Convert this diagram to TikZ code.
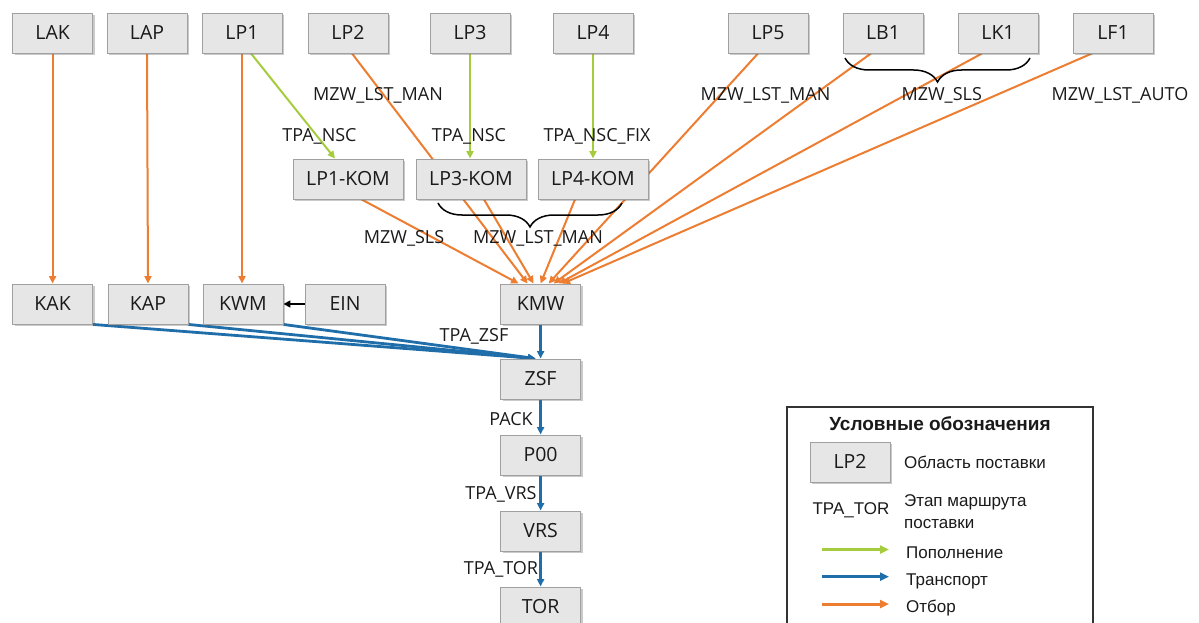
\documentclass[tikz,border=0pt]{standalone}
\usepackage{fontspec}
\setmainfont{Open Sans}
\newfontfamily\legendfont{Liberation Sans}
\usetikzlibrary{arrows.meta,shadows,decorations.pathreplacing,backgrounds,calc}

\definecolor{pick}{HTML}{ED7D31}
\definecolor{refill}{HTML}{A5CC3C}
\definecolor{transp}{HTML}{1F6EAA}
\definecolor{boxfill}{HTML}{E6E6E6}
\definecolor{boxline}{HTML}{A0A0A0}
\definecolor{ink}{HTML}{1A1A1A}

\tikzset{
  area/.style={draw=boxline, line width=0.9pt, fill=boxfill,
    minimum width=80pt, minimum height=40pt, inner sep=0pt,
    text height=13.9pt, text depth=0pt, text=ink,
    font=\fontsize{19.5}{22}\selectfont,
    drop shadow={shadow xshift=2pt, shadow yshift=-2pt, opacity=0.35, fill=black!60}},
  widearea/.style={area, minimum width=110pt},
  lbl/.style={anchor=base, inner sep=0pt, text=ink, font=\fontsize{18}{20}\selectfont},
  tip/.style={-{Triangle[length=7.5pt,width=7pt]}},
  pickarrow/.style={tip, draw=pick, fill=pick, line width=2pt},
  refillarrow/.style={tip, draw=refill, fill=refill, line width=2pt},
  transparrow/.style={tip, draw=transp, fill=transp, line width=2.8pt},
  curly/.style={draw=black, line width=1.5pt, decorate,
    decoration={brace, amplitude=24pt}},
  legtext/.style={anchor=base west, inner sep=0pt, text=ink,
    font=\legendfont\fontsize{17}{20}\selectfont},
  legarrow/.style={-{Triangle[length=9pt,width=8pt]}, line width=3pt},
}

\begin{document}
\begin{tikzpicture}[x=1pt, y=-1pt]
\useasboundingbox (0,0) rectangle (1199,623);
\clip (0,0) rectangle (1199,623);

% storage areas, top row
\node[area] (lak) at (52.6,33) {LAK};
\node[area] (lap) at (147,33) {LAP};
\node[area] (lp1) at (242,33) {LP1};
\node[area] (lp2) at (348,33) {LP2};
\node[area] (lp3) at (470,33) {LP3};
\node[area] (lp4) at (593,33) {LP4};
\node[area] (lp5) at (768,33) {LP5};
\node[area] (lb1) at (883,33) {LB1};
\node[area] (lk1) at (998,33) {LK1};
\node[area] (lf1) at (1113,33) {LF1};

% picking areas
\node[widearea] (lp1kom) at (348,179) {LP1-KOM};
\node[widearea] (lp3kom) at (471,179) {LP3-KOM};
\node[widearea] (lp4kom) at (593,179) {LP4-KOM};

% staging row
\node[area] (kak) at (52.6,304) {KAK};
\node[area] (kap) at (148,304) {KAP};
\node[area] (kwm) at (243,304) {KWM};
\node[area] (ein) at (345,304) {EIN};
\node[area] (kmw) at (540.6,304) {KMW};

% outbound chain
\node[area] (zsf) at (540.6,379) {ZSF};
\node[area] (p00) at (540.6,455) {P00};
\node[area] (vrs) at (540.6,531) {VRS};
\node[area] (tor) at (540.6,607) {TOR};

% connectors behind the boxes
\begin{scope}[on background layer]
  % picking
  \draw[pickarrow] (lak.south) -- (kak.north);
  \draw[pickarrow] (lap.south) -- (kap.north);
  \draw[pickarrow] (lp1.south) -- (lp1.south |- kwm.north);
  \draw[pickarrow] ([xshift=4pt]lp2.south) -- ([xshift=-13pt]kmw.north);
  \draw[pickarrow] ([xshift=13.6pt]lp1kom.south) -- ([xshift=-22pt]kmw.north);
  \draw[pickarrow] ([xshift=13pt]lp3kom.south) -- ([xshift=-7pt]kmw.north);
  \draw[pickarrow] ([xshift=-18pt]lp4kom.south) -- ([xshift=0pt]kmw.north);
  \draw[pickarrow] ([xshift=-10pt]lp5.south) -- ([xshift=8pt]kmw.north);
  \draw[pickarrow] ([xshift=-12pt]lb1.south) -- ([xshift=13pt]kmw.north);
  \draw[pickarrow] ([xshift=-16pt]lk1.south) -- ([xshift=18pt]kmw.north);
  \draw[pickarrow] ([xshift=-21pt]lf1.south) -- ([xshift=22pt]kmw.north);
  % replenishment
  \draw[refillarrow] ([xshift=9pt]lp1.south) -- ([xshift=-13pt]lp1kom.north);
  \draw[refillarrow] (lp3.south) -- (lp3.south |- lp3kom.north);
  \draw[refillarrow] (lp4.south) -- (lp4kom.north);
  % transport
  \draw[transparrow] (kak.south east) -- ([xshift=-5pt]zsf.north);
  \draw[transparrow] (kap.south east) -- ([xshift=-5pt]zsf.north);
  \draw[transparrow] (kwm.south east) -- ([xshift=-5pt]zsf.north);
  \draw[transparrow] (kmw.south) -- (zsf.north);
  \draw[transparrow] (zsf.south) -- (p00.north);
  \draw[transparrow] (p00.south) -- (vrs.north);
  \draw[transparrow] (vrs.south) -- (tor.north);
  % goods receipt
  \draw[-{Triangle[length=7pt,width=7pt]}, line width=1.6pt, draw=black] (ein.west) -- (kwm.east);
\end{scope}

% braces
\draw[curly] (1030,58) -- (845,58);
\draw[curly] (622,203) -- (438,203);

% route step labels
\node[lbl] (t1) at (378,101) {MZW\_LST\_MAN};
\node[lbl] (t2) at (319.5,142) {TPA\_NSC};
\node[lbl] (t3) at (469,142) {TPA\_NSC};
\node[lbl] (t4) at (597,142) {TPA\_NSC\_FIX};
\node[lbl] (t5) at (765.5,101) {MZW\_LST\_MAN};
\node[lbl] (t6) at (941.7,101) {MZW\_SLS};
\node[lbl] (t7) at (1120,101) {MZW\_LST\_AUTO};
\node[lbl] (t8) at (404,243) {MZW\_SLS};
\node[lbl] (t9) at (538,243) {MZW\_LST\_MAN};
\node[lbl] (t10) at (474,341) {TPA\_ZSF};
\node[lbl] (t11) at (511,425) {PACK};
\node[lbl] (t12) at (501,499) {TPA\_VRS};
\node[lbl] (t13) at (501,574) {TPA\_TOR};

% legend
\draw[line width=1.2pt, draw=black!80] (787,407) rectangle (1093,640);
\node[anchor=base, inner sep=0pt, text=ink, font=\legendfont\bfseries\fontsize{19}{22}\selectfont] (legtitle) at (940,430) {Условные обозначения};
\node[area] (legbox) at (850,462) {LP2};
\node[legtext] (legboxtext) at (904,468) {Область поставки};
\node[anchor=base, inner sep=0pt, text=ink, font=\legendfont\fontsize{17}{20}\selectfont] (legstep) at (851,514) {TPA\_TOR};
\node[legtext] (legsteptext) at (904,506) {Этап маршрута};
\node[legtext] (legsteptextb) at (904,528) {поставки};
\coordinate (g1) at (822,549.5);
\coordinate (g2) at (889,549.5);
\coordinate (b1) at (822,576.7);
\coordinate (b2) at (889,576.7);
\coordinate (o1) at (822,604);
\coordinate (o2) at (889,604);
\draw[legarrow, draw=refill, fill=refill] (g1) -- (g2);
\draw[legarrow, draw=transp, fill=transp] (b1) -- (b2);
\draw[legarrow, draw=pick, fill=pick] (o1) -- (o2);
\node[legtext] (legg) at (906,558) {Пополнение};
\node[legtext] (legb) at (906,585) {Транспорт};
\node[legtext] (lego) at (906,612) {Отбор};
\end{tikzpicture}
\end{document}
